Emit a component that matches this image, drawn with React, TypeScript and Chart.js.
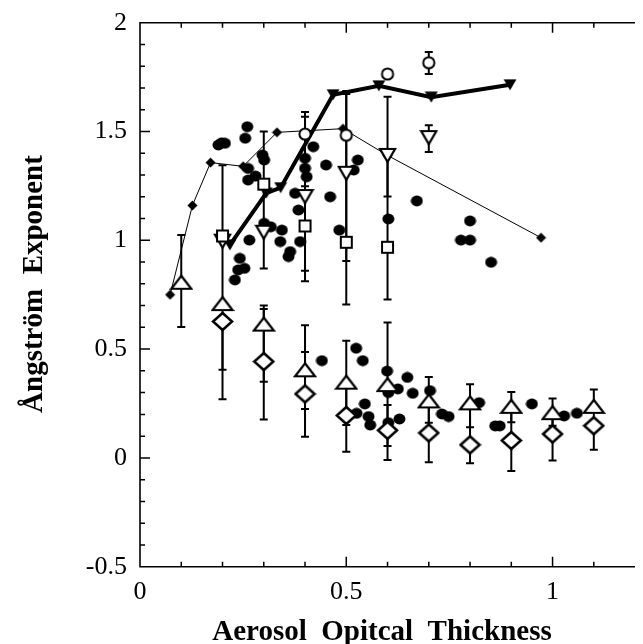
import React, { useEffect, useRef } from "react";
import { Chart, registerables } from "chart.js";

Chart.register(...registerables);

// ---------- data ----------
// filled black dots
const dotX = [
  0.26, 0.255, 0.19, 0.198, 0.206, 0.297, 0.301, 0.262, 0.28, 0.262,
  0.317, 0.301, 0.344, 0.34, 0.364, 0.36, 0.265, 0.242, 0.253, 0.238, 0.23,
  0.388, 0.384, 0.376, 0.404, 0.4, 0.4, 0.42, 0.451, 0.461, 0.483, 0.528, 0.518,
  0.671, 0.602, 0.8, 0.778, 0.8, 0.851,
  0.441, 0.524, 0.54, 0.545, 0.525, 0.554, 0.558, 0.599, 0.602, 0.625, 0.648,
  0.661, 0.602, 0.629, 0.703, 0.732, 0.748, 0.822, 0.861, 0.872, 0.95, 1.028, 1.059,
];
const dotY = [
  1.522, 1.469, 1.438, 1.448, 1.446, 1.392, 1.369, 1.33, 1.295, 1.277,
  1.062, 1.078, 1.047, 0.994, 0.948, 0.925, 1.001, 0.917, 0.871, 0.864, 0.818,
  0.994, 1.139, 1.216, 1.292, 1.377, 1.331, 1.43, 1.346, 1.2, 1.047, 1.369, 1.323,
  1.181, 1.098, 1.089, 1.001, 1.001, 0.899,
  0.447, 0.504, 0.447, 0.248, 0.205, 0.19, 0.151, 0.399, 0.3, 0.317, 0.37,
  0.297, 0.162, 0.179, 0.309, 0.202, 0.19, 0.254, 0.147, 0.147, 0.248, 0.193, 0.205,
];

// thin line with small filled diamonds
const thinX = [0.073, 0.127, 0.171, 0.25, 0.332, 0.492, 0.6, 0.972];
const thinY = [0.75, 1.16, 1.357, 1.34, 1.496, 1.513, 1.39, 1.012];

// thick line with filled down-triangles
const thickX = [0.218, 0.306, 0.341, 0.468, 0.579, 0.706, 0.897];
const thickY = [0.979, 1.217, 1.242, 1.669, 1.71, 1.658, 1.715];

// open circles
const circX = [0.4, 0.5, 0.6, 0.7];
const circY = [1.488, 1.483, 1.764, 1.816];

// open down-triangles
const vTriX = [0.2, 0.3, 0.4, 0.5, 0.6, 0.7];
const vTriY = [0.996, 1.037, 1.201, 1.308, 1.39, 1.472];

// open squares
const sqX = [0.2, 0.3, 0.4, 0.5, 0.6];
const sqY = [1.02, 1.258, 1.066, 0.991, 0.968];

// open up-triangles
const triX = [0.1, 0.2, 0.3, 0.4, 0.5, 0.6, 0.7, 0.8, 0.9, 1.0, 1.1];
const triY = [0.807, 0.709, 0.615, 0.405, 0.348, 0.337, 0.262, 0.253, 0.237, 0.208, 0.237];

// open diamonds
const diaX = [0.2, 0.3, 0.4, 0.5, 0.6, 0.7, 0.8, 0.9, 1.0, 1.1];
const diaY = [0.627, 0.443, 0.294, 0.195, 0.127, 0.115, 0.06, 0.08, 0.11, 0.148];

// error bars
const errX = [
  0.1, 0.2, 0.2, 0.3, 0.3, 0.3, 0.4, 0.4, 0.4, 0.4, 0.4,
  0.5, 0.5, 0.5, 0.5, 0.6, 0.6, 0.6, 0.6, 0.7, 0.7, 0.7, 0.7,
  0.8, 0.8, 0.9, 0.9, 1.0, 1.0, 1.1,
];
const errLow = [
  0.602, 0.405, 0.27, 0.87, 0.35, 0.177, 0.812, 0.86, 1.2, 0.225, 0.097,
  0.705, 0.905, 0.028, 0.151, 0.728, 1.201, -0.01, 0.055, 1.764, 1.406, -0.02, 0.162,
  -0.025, 0.141, -0.06, 0.164, -0.012, 0.148, 0.038,
];
const errHigh = [
  1.024, 1.345, 0.627, 1.5, 0.7, 0.684, 1.59, 1.568, 1.248, 0.61, 0.487,
  1.686, 1.672, 0.538, 0.348, 1.66, 1.39, 0.622, 0.243, 1.865, 1.529, 0.372, 0.262,
  0.338, 0.253, 0.303, 0.237, 0.273, 0.208, 0.314,
];

const xTickValues = [0, 0.5, 1];
const yTickValues = [-0.5, 0, 0.5, 1, 1.5, 2];
const xTitle = "Aerosol  Opitcal  Thickness";
const yTitle = "Ångström  Exponent";

// ---------- markers ----------
function marker(w: number, h: number, draw: (c: CanvasRenderingContext2D) => void) {
  const c = document.createElement("canvas");
  c.width = w;
  c.height = h;
  const ctx = c.getContext("2d")!;
  ctx.strokeStyle = "#000";
  ctx.fillStyle = "#000";
  ctx.lineJoin = "miter";
  draw(ctx);
  return c;
}

function pts(xs: number[], ys: number[]) {
  return xs.map((x, i) => ({ x, y: ys[i] }));
}

export default function App() {
  const ref = useRef<HTMLCanvasElement | null>(null);

  useEffect(() => {
    if (!ref.current) return;

    const openTriUp = marker(24, 17, (c) => {
      c.lineWidth = 2.2;
      c.beginPath();
      c.moveTo(12, 2);
      c.lineTo(22, 15);
      c.lineTo(2, 15);
      c.closePath();
      c.fillStyle = "#fff";
      c.fill();
      c.stroke();
    });
    const openTriDown = marker(19, 17, (c) => {
      c.lineWidth = 2.2;
      c.beginPath();
      c.moveTo(2, 2);
      c.lineTo(17, 2);
      c.lineTo(9.5, 15);
      c.closePath();
      c.fillStyle = "#fff";
      c.fill();
      c.stroke();
    });
    const openDiamond = marker(23, 21, (c) => {
      c.lineWidth = 2.5;
      c.beginPath();
      c.moveTo(11.5, 2);
      c.lineTo(21, 10.5);
      c.lineTo(11.5, 19);
      c.lineTo(2, 10.5);
      c.closePath();
      c.fillStyle = "#fff";
      c.fill();
      c.stroke();
    });
    const openSquare = marker(15, 15, (c) => {
      c.lineWidth = 2;
      c.fillStyle = "#fff";
      c.fillRect(2, 2, 11, 11);
      c.strokeRect(2, 2, 11, 11);
    });
    const openCircle = marker(16, 16, (c) => {
      c.lineWidth = 2;
      c.beginPath();
      c.arc(8, 8, 5.6, 0, Math.PI * 2);
      c.fillStyle = "#fff";
      c.fill();
      c.stroke();
    });
    const filledTriDown = marker(14, 12, (c) => {
      c.beginPath();
      c.moveTo(0.5, 0.5);
      c.lineTo(13.5, 0.5);
      c.lineTo(7, 11.5);
      c.closePath();
      c.fill();
    });
    const smallDiamond = marker(11, 11, (c) => {
      c.beginPath();
      c.moveTo(5.5, 0.5);
      c.lineTo(10.5, 5.5);
      c.lineTo(5.5, 10.5);
      c.lineTo(0.5, 5.5);
      c.closePath();
      c.fill();
    });
    const dot = marker(13, 12, (c) => {
      c.beginPath();
      c.ellipse(6.5, 6, 6, 5.4, 0, 0, Math.PI * 2);
      c.fill();
    });

    const errorBars = {
      id: "errorBars",
      beforeDatasetsDraw(chart: any) {
        const { ctx, scales } = chart;
        const xs = scales.x;
        const ys = scales.y;
        ctx.save();
        ctx.strokeStyle = "#000";
        ctx.lineWidth = 2;
        for (let i = 0; i < errX.length; i++) {
          const px = xs.getPixelForValue(errX[i]);
          const pl = ys.getPixelForValue(errLow[i]);
          const ph = ys.getPixelForValue(errHigh[i]);
          ctx.beginPath();
          ctx.moveTo(px, pl);
          ctx.lineTo(px, ph);
          ctx.moveTo(px - 4, pl);
          ctx.lineTo(px + 4, pl);
          ctx.moveTo(px - 4, ph);
          ctx.lineTo(px + 4, ph);
          ctx.stroke();
        }
        ctx.restore();
      },
    };

    const frame = {
      id: "frame",
      afterDatasetsDraw(chart: any) {
        const { ctx, chartArea, scales } = chart;
        const xs = scales.x;
        const ys = scales.y;
        const { left, right, top, bottom } = chartArea;
        ctx.save();
        ctx.strokeStyle = "#000";
        ctx.lineWidth = 1.6;
        ctx.beginPath();
        ctx.moveTo(right + 2, top);
        ctx.lineTo(left, top);
        ctx.lineTo(left, bottom);
        ctx.lineTo(right + 2, bottom);
        ctx.stroke();
        ctx.lineWidth = 1.5;
        ctx.beginPath();
        for (let i = -4; i <= 19; i++) {
          const v = i / 10;
          const major = i % 5 === 0;
          const py = ys.getPixelForValue(v);
          ctx.moveTo(left, py);
          ctx.lineTo(left + (major ? 10 : 5), py);
        }
        for (let i = 1; i <= 11; i++) {
          const v = i / 10;
          const major = i % 5 === 0;
          const px = xs.getPixelForValue(v);
          const len = major ? 10 : 5;
          ctx.moveTo(px, bottom);
          ctx.lineTo(px, bottom - len);
          ctx.moveTo(px, top);
          ctx.lineTo(px, top + len);
        }
        ctx.stroke();
        ctx.restore();
      },
      afterDraw(chart: any) {
        const { ctx } = chart;
        ctx.save();
        ctx.fillStyle = "#000";
        ctx.font = "bold 29px 'Liberation Serif', 'DejaVu Serif', serif";
        ctx.textAlign = "center";
        ctx.textBaseline = "alphabetic";
        ctx.fillText(xTitle, 382, 640);
        ctx.translate(42, 284);
        ctx.rotate(-Math.PI / 2);
        ctx.fillText(yTitle, 0, 0);
        ctx.restore();
      },
    };

    const fmt = (v: any) => {
      const r = Math.round(Number(v) * 10) / 10;
      return String(r);
    };

    const chart = new Chart(ref.current, {
      type: "scatter",
      data: {
        datasets: [
          {
            data: pts(triX, triY),
            pointStyle: openTriUp as any,
            pointRadius: 8,
            showLine: false,
            order: 1,
          },
          {
            data: pts(diaX, diaY),
            pointStyle: openDiamond as any,
            pointRadius: 8,
            showLine: false,
            order: 2,
          },
          {
            data: pts(sqX, sqY),
            pointStyle: openSquare as any,
            pointRadius: 7,
            showLine: false,
            order: 3,
          },
          {
            data: pts(vTriX, vTriY),
            pointStyle: openTriDown as any,
            pointRadius: 7,
            showLine: false,
            order: 4,
          },
          {
            data: pts(circX, circY),
            pointStyle: openCircle as any,
            pointRadius: 7,
            showLine: false,
            order: 5,
          },
          {
            data: pts(thickX, thickY),
            pointStyle: filledTriDown as any,
            pointRadius: 6,
            showLine: true,
            borderColor: "#000",
            borderWidth: 4,
            order: 6,
          },
          {
            data: pts(thinX, thinY),
            pointStyle: smallDiamond as any,
            pointRadius: 5,
            showLine: true,
            borderColor: "#000",
            borderWidth: 1,
            order: 7,
          },
          {
            data: pts(dotX, dotY),
            pointStyle: dot as any,
            pointRadius: 6,
            showLine: false,
            order: 8,
          },
        ],
      },
      options: {
        animation: false,
        responsive: false,
        devicePixelRatio: 1,
        events: [],
        layout: { padding: { top: 22.7, left: 0, right: 0, bottom: 0 } },
        plugins: {
          legend: { display: false },
          tooltip: { enabled: false },
          title: { display: false },
        },
        scales: {
          x: {
            type: "linear",
            min: 0,
            max: 1.195,
            grid: { display: false, drawTicks: false },
            border: { display: false },
            afterFit: (s: any) => {
              s.height = 77.3;
              s.paddingLeft = 0;
              s.paddingRight = 0;
            },
            afterBuildTicks: (s: any) => {
              s.ticks = xTickValues.map((v) => ({ value: v }));
            },
            ticks: {
              includeBounds: false,
              autoSkip: false,
              maxRotation: 0,
              padding: 10,
              color: "#000",
              font: { family: "'Liberation Serif', serif", size: 26 },
              callback: fmt,
            },
          },
          y: {
            type: "linear",
            min: -0.5,
            max: 2,
            grid: { display: false, drawTicks: false },
            border: { display: false },
            afterFit: (s: any) => {
              s.width = 140;
              s.paddingTop = 0;
              s.paddingBottom = 0;
            },
            afterBuildTicks: (s: any) => {
              s.ticks = yTickValues.map((v) => ({ value: v }));
            },
            ticks: {
              includeBounds: false,
              autoSkip: false,
              padding: 13,
              color: "#000",
              font: { family: "'Liberation Serif', serif", size: 26 },
              callback: fmt,
            },
          },
        },
      },
      plugins: [errorBars, frame],
    } as any);

    return () => chart.destroy();
  }, []);

  return (
    <div style={{ position: "fixed", left: 0, top: 0, width: 643, height: 644, background: "#fff" }}>
      <canvas ref={ref} width={643} height={644} style={{ display: "block", width: 643, height: 644 }} />
    </div>
  );
}
